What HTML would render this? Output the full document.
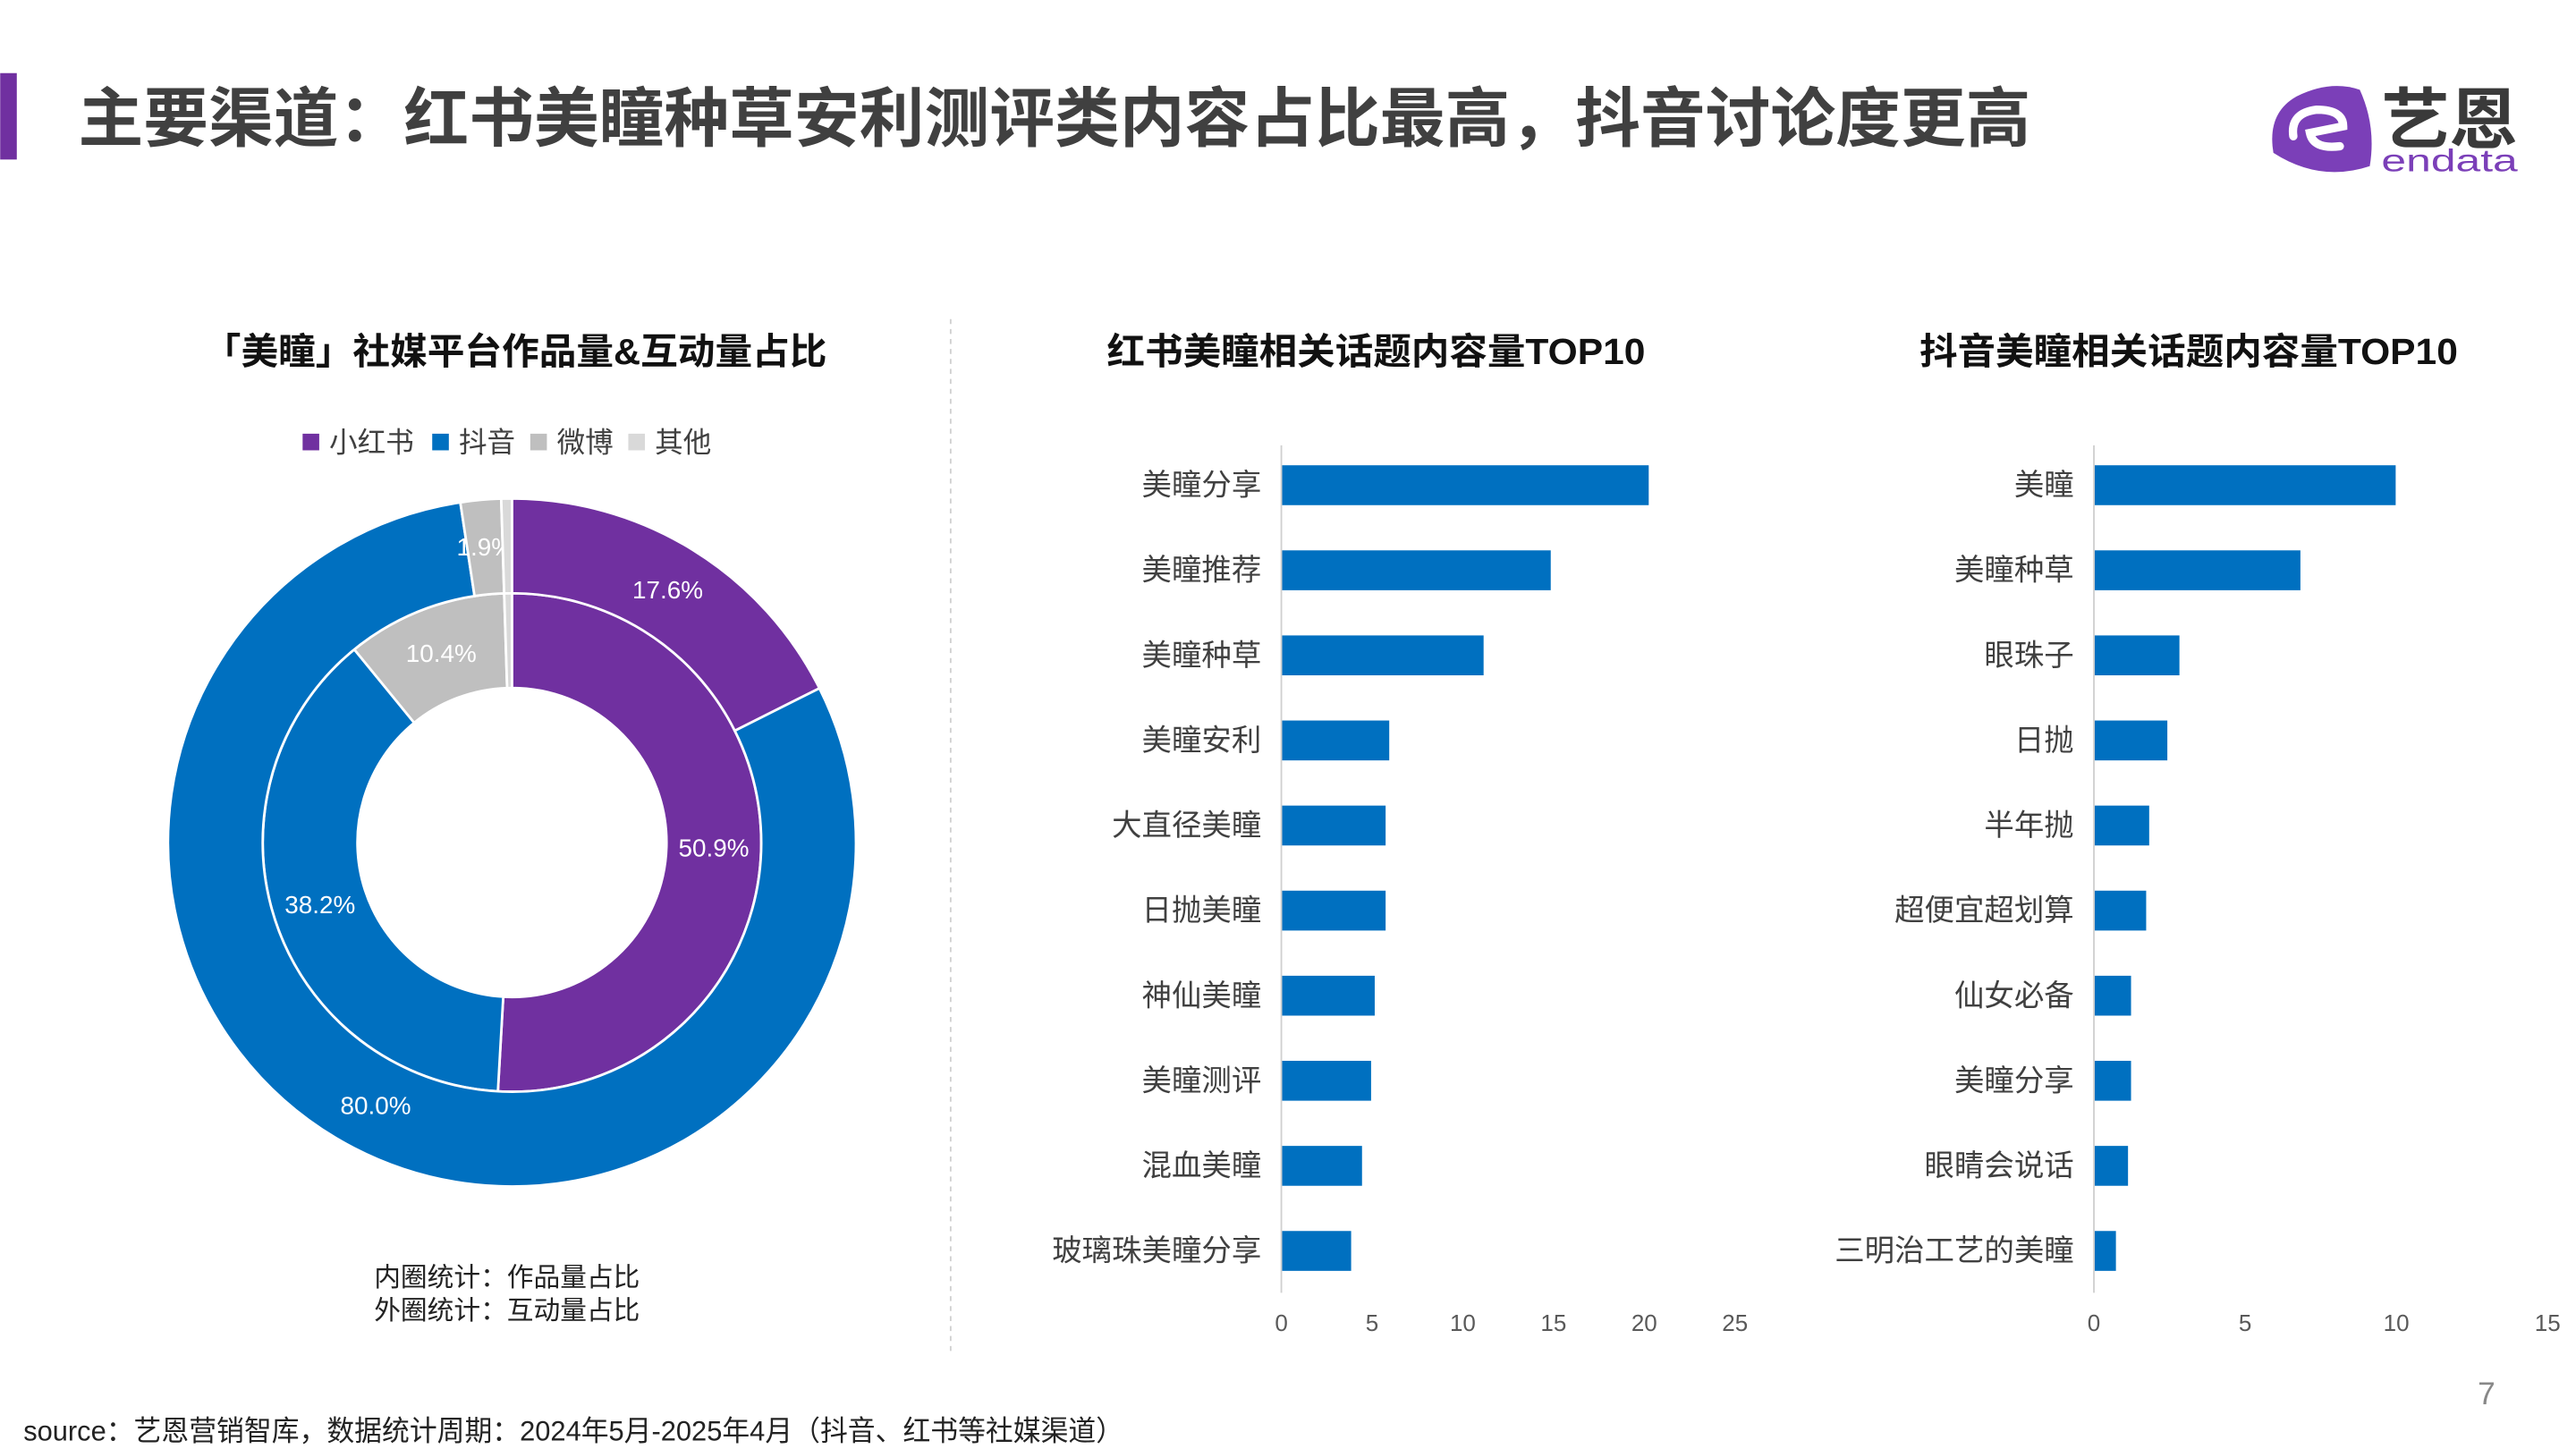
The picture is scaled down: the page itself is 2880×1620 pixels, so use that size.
<!DOCTYPE html>
<html><head><meta charset="utf-8"><style>
html,body{margin:0;padding:0;background:#fff;width:2880px;height:1620px;overflow:hidden}
svg{display:block}
text{font-family:"Liberation Sans","Noto Sans CJK SC",sans-serif}
</style></head><body>
<svg id="s" width="2880" height="1620" viewBox="0 0 1550 872" xmlns="http://www.w3.org/2000/svg">
<rect x="0" y="44" width="10" height="52" fill="#7030A0"/>
<text x="47" y="85" font-size="39" font-weight="bold" fill="#404040" textLength="1175" lengthAdjust="spacingAndGlyphs">主要渠道：红书美瞳种草安利测评类内容占比最高，抖音讨论度更高</text>
<g>
<path d="M1368 92 Q1364 68 1382 58 Q1402 48 1420 54 Q1430 76 1426 100 Q1396 110 1368 92Z" fill="#7B3FB8"/>
<path d="M1380 82 Q1378 68 1394 66 Q1410 66 1410 76 L1390 80 Q1392 90 1408 88" fill="none" stroke="#fff" stroke-width="5" stroke-linecap="round"/>
<text x="1433" y="86" font-size="40" font-weight="bold" fill="#3a3a3a" textLength="82" lengthAdjust="spacingAndGlyphs">艺恩</text>
<text x="1433" y="103" font-size="19" fill="#7B3FB8" textLength="82" lengthAdjust="spacingAndGlyphs">endata</text>
</g>
<line x1="572" y1="192" x2="572" y2="815" stroke="#d0d0d0" stroke-dasharray="3,3"/>
<text x="310" y="219" font-size="22" font-weight="bold" fill="#111" text-anchor="middle" textLength="375" lengthAdjust="spacingAndGlyphs">「美瞳」社媒平台作品量&amp;互动量占比</text>
<text x="828" y="219" font-size="22" font-weight="bold" fill="#111" text-anchor="middle" textLength="324" lengthAdjust="spacingAndGlyphs">红书美瞳相关话题内容量TOP10</text>
<text x="1317" y="219" font-size="22" font-weight="bold" fill="#111" text-anchor="middle" textLength="324" lengthAdjust="spacingAndGlyphs">抖音美瞳相关话题内容量TOP10</text>
<g font-size="17" fill="#404040">
<rect x="182" y="261" width="10" height="10" fill="#7030A0"/><text x="198" y="272">小红书</text>
<rect x="260" y="261" width="10" height="10" fill="#0070C0"/><text x="276" y="272">抖音</text>
<rect x="319" y="261" width="10" height="10" fill="#BFBFBF"/><text x="335" y="272">微博</text>
<rect x="378" y="261" width="10" height="10" fill="#D9D9D9"/><text x="394" y="272">其他</text>
</g>
<g id="donut"></g>
<g id="bars1"></g>
<g id="bars2"></g>
<text x="225" y="774" font-size="16" fill="#222">内圈统计：作品量占比</text>
<text x="225" y="794" font-size="16" fill="#222">外圈统计：互动量占比</text>
<text x="14" y="867" font-size="17" fill="#222" textLength="662" lengthAdjust="spacingAndGlyphs">source：艺恩营销智库，数据统计周期：2024年5月-2025年4月（抖音、红书等社媒渠道）</text>
<text x="1491" y="845" font-size="19" fill="#888">7</text>
</svg>
<script>
const platforms = ["小红书","抖音","微博","其他"];
const innerShares = [50.9, 38.2, 10.4, 0.5];
const outerShares = [17.6, 80.0, 1.9, 0.5];
const innerLabels = ["50.9%","38.2%","10.4%",""];
const outerLabels = ["17.6%","80.0%","1.9%",""];
const xhsTopics = ["美瞳分享","美瞳推荐","美瞳种草","美瞳安利","大直径美瞳","日抛美瞳","神仙美瞳","美瞳测评","混血美瞳","玻璃珠美瞳分享"];
const xhsValues = [20.2, 14.8, 11.1, 5.9, 5.7, 5.7, 5.1, 4.9, 4.4, 3.8];
const xhsTicks = [0,5,10,15,20,25];
const dyTopics = ["美瞳","美瞳种草","眼珠子","日抛","半年抛","超便宜超划算","仙女必备","美瞳分享","眼睛会说话","三明治工艺的美瞳"];
const dyValues = [9.95, 6.8, 2.8, 2.4, 1.8, 1.7, 1.2, 1.2, 1.1, 0.7];
const dyTicks = [0,5,10,15];

const NS="http://www.w3.org/2000/svg";
const colors=["#7030A0","#0070C0","#BFBFBF","#D9D9D9"];
function mk(tag,attrs,parent){const e=document.createElementNS(NS,tag);for(const k in attrs)e.setAttribute(k,attrs[k]);parent.appendChild(e);return e;}
const cx=308, cy=507;
function pt(r,a){return [cx+r*Math.sin(a), cy-r*Math.cos(a)];}
function ring(shares,labels,r0,r1,name){
  const g=document.getElementById('donut');
  const tot=shares.reduce((a,b)=>a+b,0);
  let acc=0;
  shares.forEach((v,i)=>{
    const a0=acc/tot*2*Math.PI, a1=(acc+v)/tot*2*Math.PI; acc+=v;
    const L=(a1-a0)>Math.PI?1:0;
    const p0=pt(r1,a0),p1=pt(r1,a1),p2=pt(r0,a1),p3=pt(r0,a0);
    const d=`M${p0} A${r1},${r1} 0 ${L} 1 ${p1} L${p2} A${r0},${r0} 0 ${L} 0 ${p3}Z`;
    const p=mk('path',{d:d,fill:colors[i],stroke:'#fff','stroke-width':1.5},g);
    
    
    if(labels[i]){
      const m=pt((r0+r1)/2,(a0+a1)/2);
      const t=mk('text',{x:m[0],y:m[1]+5,'font-size':15,fill:'#fff','text-anchor':'middle'},g);
      t.textContent=labels[i];
      
      
    }
  });
}
ring(innerShares,innerLabels,93,150,'inner-ring');
ring(outerShares,outerLabels,150,207,'outer-ring');

function bars(id,cats,vals,ticks,x0,x1,name){
  const g=document.getElementById(id);
  const max=ticks[ticks.length-1];
  const xs=v=>x0+(x1-x0)*v/max;
  const top=268, step=51.2;
  const ax=mk('line',{x1:x0,y1:top,x2:x0,y2:778,stroke:'#d0d0d0'},g);
  
  
  cats.forEach((c,i)=>{
    const yc=top+24+step*i;
    const r=mk('rect',{x:x0+0.5,y:yc-12,width:xs(vals[i])-x0,height:24,fill:'#0070C0'},g);
    
    
    const t=mk('text',{x:x0-12,y:yc+6,'font-size':18,fill:'#404040','text-anchor':'end'},g);
    t.textContent=c;
    
    
  });
  ticks.forEach((v,i)=>{
    const t=mk('text',{x:xs(v),y:801,'font-size':14,fill:'#595959','text-anchor':'middle'},g);
    t.textContent=v;
    
    
  });
}
bars('bars1',xhsTopics,xhsValues,xhsTicks,771,1044,'xhs');
bars('bars2',dyTopics,dyValues,dyTicks,1260,1533,'douyin');
</script>
</body></html>
